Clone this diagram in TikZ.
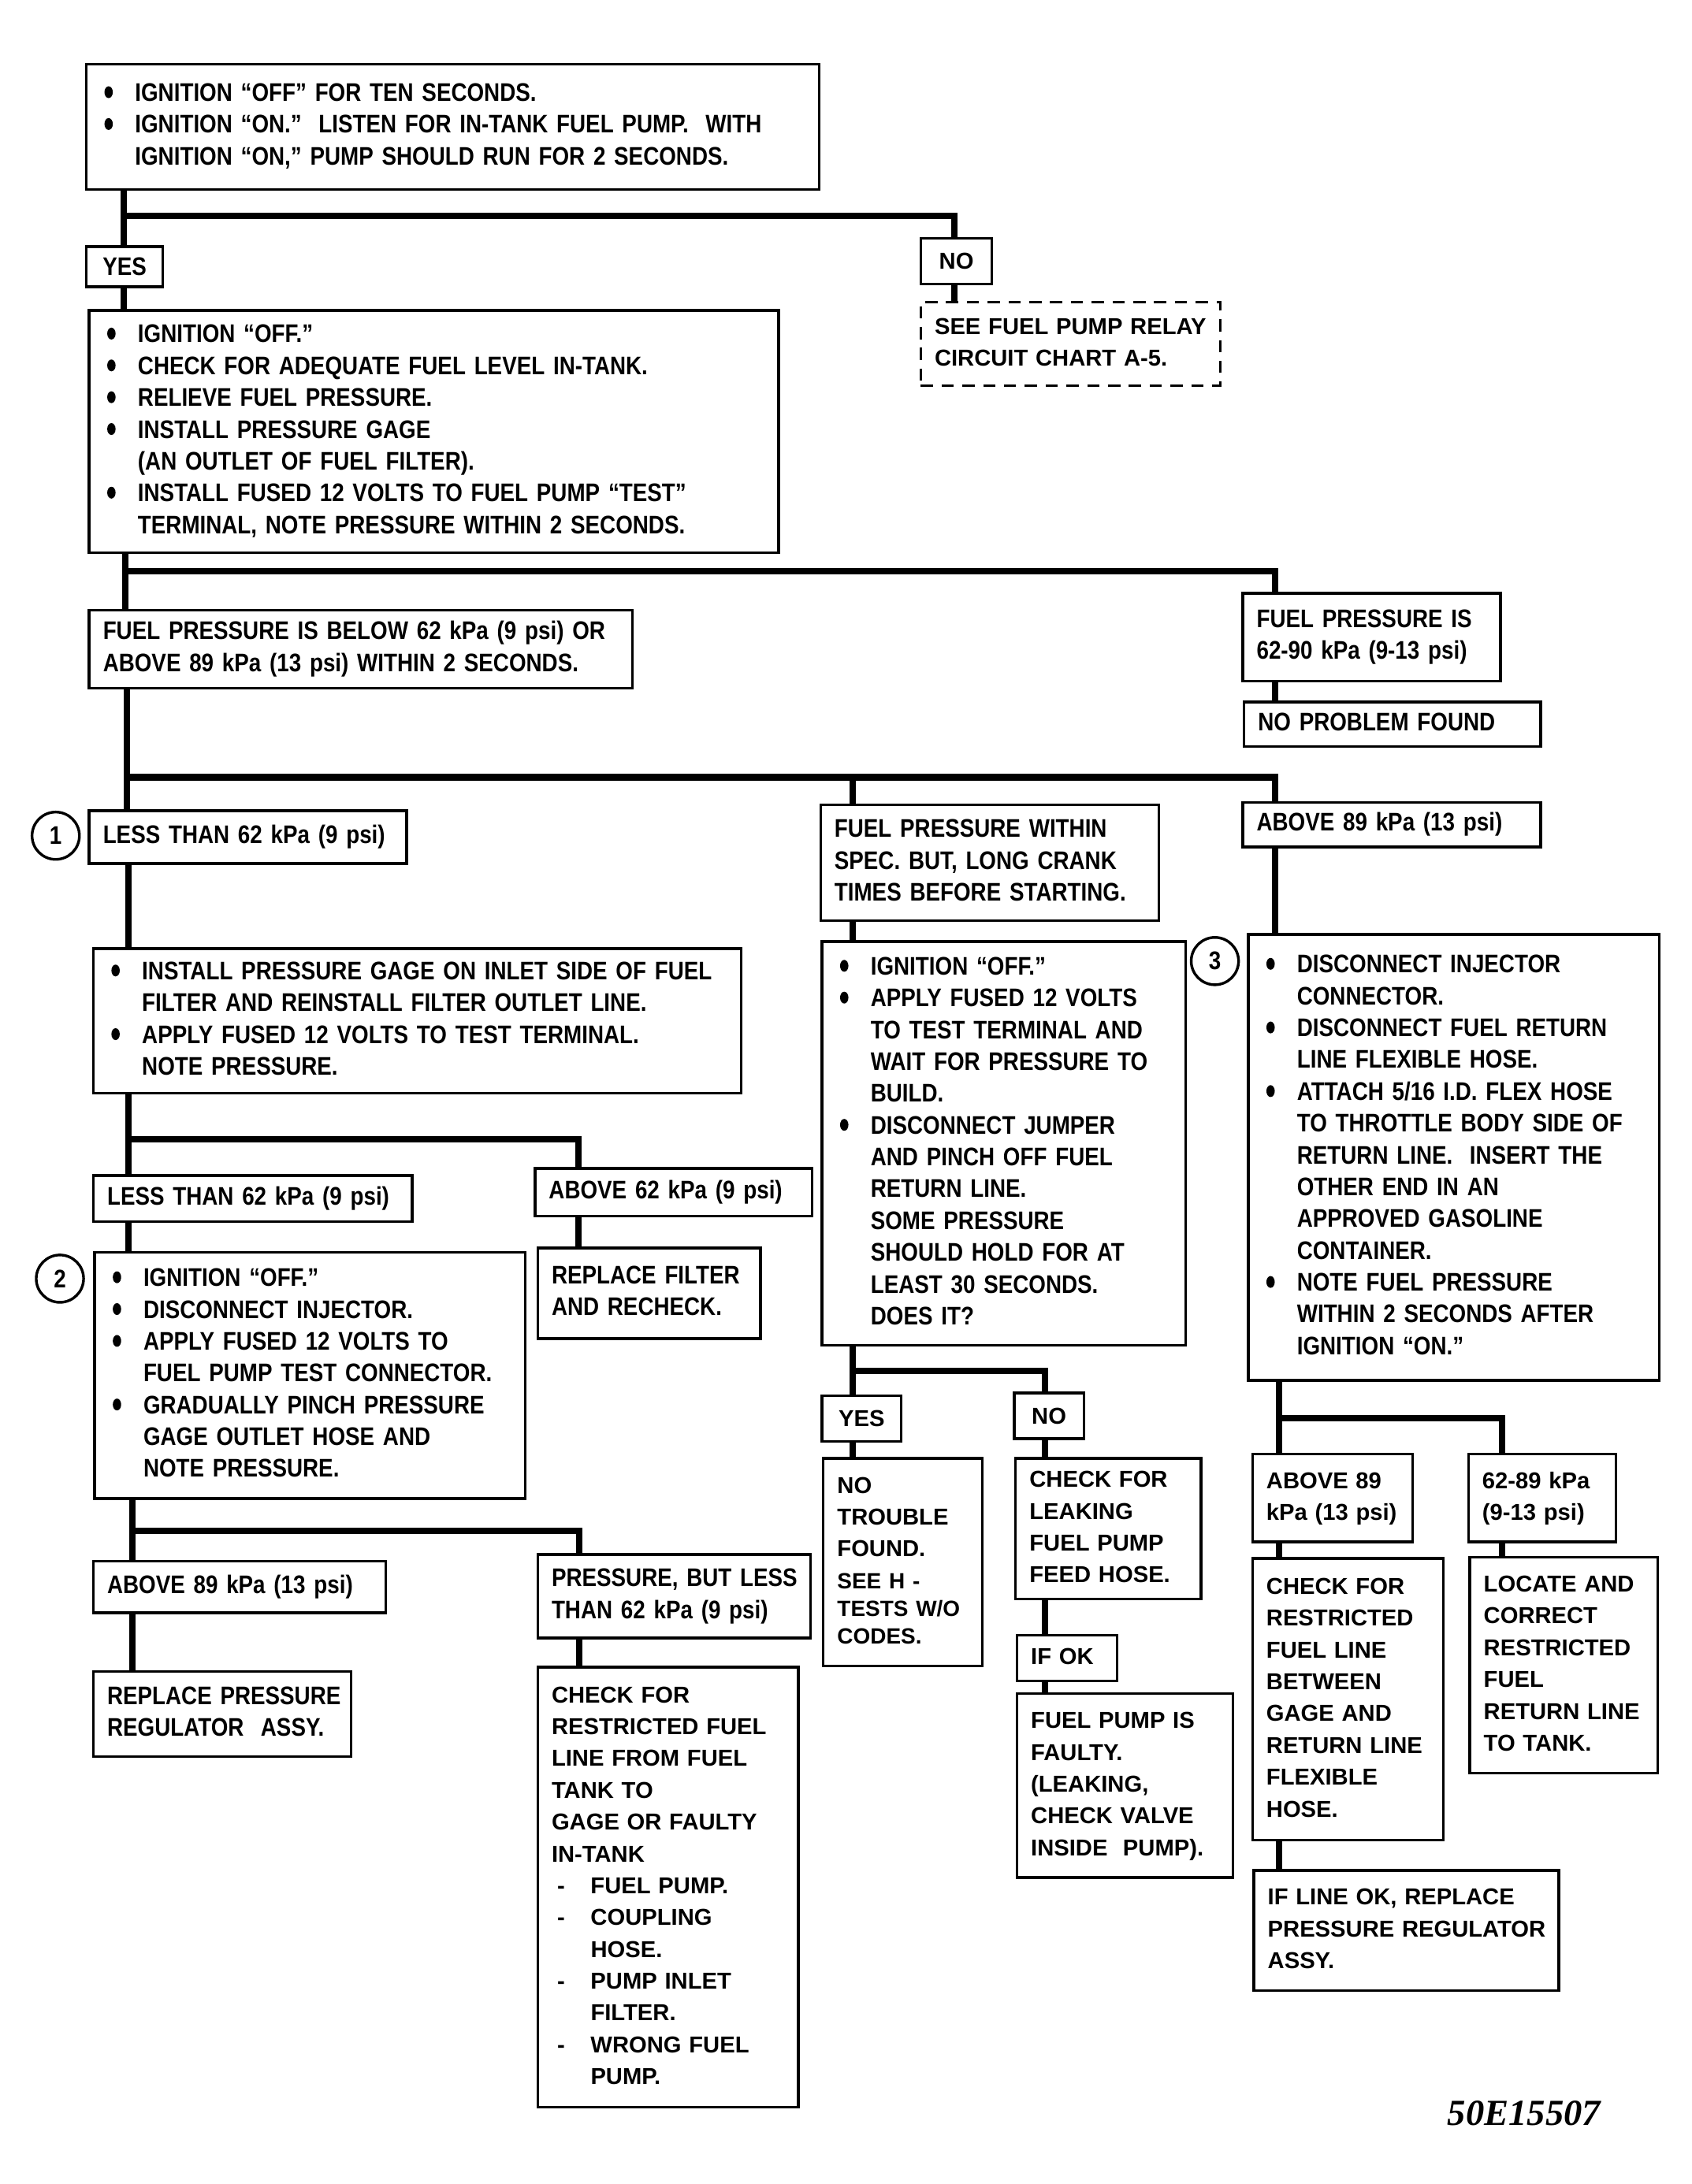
\documentclass[tikz,border=0pt]{standalone}
\usepackage{fontspec}
\newfontfamily\condfont[FakeStretch=0.86]{Liberation Sans}
\newfontfamily\widefont{Liberation Sans}
\newfontfamily\codefont{Liberation Serif}
\usepackage{tikz}

\newcommand\bul{\makebox[0.5cm][l]{\hspace{0.06cm}\tikz[baseline=0pt]\fill (0.06cm,0.13cm) ellipse (0.06cm and 0.085cm);}}
\newcommand\bindent{\hspace*{0.5cm}}
\newcommand\dsh{\makebox[0.56cm][l]{\hspace{0.08cm}-}}
\newcommand\dindent{\hspace*{0.56cm}}
\newcommand\rows[1]{\begin{tabular}{@{}l@{}}#1\end{tabular}}
\newcommand\plainsz{\fontsize{9}{11}\selectfont}

\begin{document}
\begin{tikzpicture}[x=0.02cm, y=-0.02cm,
  box/.style={draw, line width=1.1pt, anchor=north west, align=left, inner xsep=0.2cm, inner ysep=0pt,
    font=\condfont\bfseries\fontsize{10.4}{13}\selectfont},
  widebox/.style={box, font=\widefont\bfseries\fontsize{9.4}{13}\selectfont},
  tag/.style={draw, line width=1.1pt, anchor=north west, inner sep=0pt,
    font=\widefont\bfseries\fontsize{9.4}{13}\selectfont},
  num/.style={circle, draw, line width=1.1pt, minimum size=0.68cm, inner sep=0pt,
    font=\condfont\bfseries\fontsize{10.4}{12}\selectfont},
  conn/.style={line width=2.6pt, line join=miter}]
\fill[white] (0,0) rectangle (1214,1568);
\useasboundingbox (0,0) rectangle (1214,1568);

% --- first check: pump runs ---
\node[box, text width=10.12cm, minimum height=1.8cm] (start) at (61,45) {\rows{%
  \bul IGNITION “OFF” FOR TEN SECONDS.\\
  \bul IGNITION “ON.”\ \ LISTEN FOR IN-TANK FUEL PUMP.\ \ WITH\\
  \bindent IGNITION “ON,” PUMP SHOULD RUN FOR 2 SECONDS.}};
\node[tag, font=\condfont\bfseries\fontsize{10.4}{13}\selectfont, minimum width=1.1cm, minimum height=0.58cm] (yes) at (61,176) {YES};
\node[tag, minimum width=1.02cm, minimum height=0.66cm] (no) at (660,170) {NO};
\node[widebox, line width=1pt, dash pattern=on 5pt off 3.5pt, text width=3.9cm, minimum height=1.2cm] (relay) at (660,216) {\rows{%
  SEE FUEL PUMP RELAY\\ CIRCUIT CHART A-5.}};
\node[box, text width=9.5cm, minimum height=3.48cm] (check) at (63,222) {\rows{%
  \bul IGNITION “OFF.”\\
  \bul CHECK FOR ADEQUATE FUEL LEVEL IN-TANK.\\
  \bul RELIEVE FUEL PRESSURE.\\
  \bul INSTALL PRESSURE GAGE\\
  \bindent (AN OUTLET OF FUEL FILTER).\\
  \bul INSTALL FUSED 12 VOLTS TO FUEL PUMP “TEST”\\
  \bindent TERMINAL, NOTE PRESSURE WITHIN 2 SECONDS.}};

% --- pressure reading ---
\node[box, text width=7.4cm, minimum height=1.12cm] (below) at (63,437) {\rows{%
  FUEL PRESSURE IS BELOW 62 kPa (9 psi) OR\\ ABOVE 89 kPa (13 psi) WITHIN 2 SECONDS.}};
\node[box, text width=3.3cm, minimum height=1.26cm] (normal) at (891,425) {\rows{%
  FUEL PRESSURE IS\\ 62-90 kPa (9-13 psi)}};
\node[box, text width=3.86cm, minimum height=0.64cm] (nofault) at (892,503) {\rows{NO PROBLEM FOUND}};

% --- three branches ---
\node[num] (n1) at (40,600) {1};
\node[box, text width=4.16cm, minimum height=0.76cm] (less) at (63,581) {\rows{LESS THAN 62 kPa (9 psi)}};
\node[box, text width=4.46cm, minimum height=1.66cm] (within) at (588,577) {\rows{%
  FUEL PRESSURE WITHIN\\ SPEC. BUT, LONG CRANK\\ TIMES BEFORE STARTING.}};
\node[box, text width=3.88cm, minimum height=0.64cm] (above) at (891,575) {\rows{ABOVE 89 kPa (13 psi)}};

% --- left column ---
\node[box, text width=8.9cm, minimum height=2.08cm] (inlet) at (66,680) {\rows{%
  \bul INSTALL PRESSURE GAGE ON INLET SIDE OF FUEL\\
  \bindent FILTER AND REINSTALL FILTER OUTLET LINE.\\
  \bul APPLY FUSED 12 VOLTS TO TEST TERMINAL.\\
  \bindent NOTE PRESSURE.}};
\node[box, text width=4.18cm, minimum height=0.66cm] (less2) at (66,843) {\rows{LESS THAN 62 kPa (9 psi)}};
\node[box, text width=3.58cm, minimum height=0.68cm] (above62) at (383,838) {\rows{ABOVE 62 kPa (9 psi)}};
\node[num] (n2) at (43,918) {2};
\node[box, text width=5.78cm, minimum height=3.54cm] (pinch) at (67,898) {\rows{%
  \bul IGNITION “OFF.”\\
  \bul DISCONNECT INJECTOR.\\
  \bul APPLY FUSED 12 VOLTS TO\\
  \bindent FUEL PUMP TEST CONNECTOR.\\
  \bul GRADUALLY PINCH PRESSURE\\
  \bindent GAGE OUTLET HOSE AND\\
  \bindent NOTE PRESSURE.}};
\node[box, text width=2.8cm, minimum height=1.3cm] (filter) at (385,895) {\rows{%
  REPLACE FILTER\\ AND RECHECK.}};
\node[box, text width=3.8cm, minimum height=0.74cm] (above89) at (66,1120) {\rows{ABOVE 89 kPa (13 psi)}};
\node[box, text width=3.52cm, minimum height=1.2cm] (butless) at (385,1115) {\rows{%
  PRESSURE, BUT LESS\\ THAN 62 kPa (9 psi)}};
\node[box, text width=3.3cm, minimum height=1.22cm] (replreg) at (66,1199) {\rows{%
  REPLACE PRESSURE\\ REGULATOR\ \ ASSY.}};
\node[widebox, text width=3.34cm, minimum height=6.32cm] (restrict) at (385,1196) {\rows{%
  CHECK FOR\\ RESTRICTED FUEL\\ LINE FROM FUEL\\ TANK TO\\ GAGE OR FAULTY\\ IN-TANK\\
  \dsh FUEL PUMP.\\ \dsh COUPLING\\ \dindent HOSE.\\ \dsh PUMP INLET\\ \dindent FILTER.\\
  \dsh WRONG FUEL\\ \dindent PUMP.}};

% --- middle column ---
\node[box, text width=4.82cm, minimum height=5.8cm] (ignoff) at (589,675) {\rows{%
  \bul IGNITION “OFF.”\\
  \bul APPLY FUSED 12 VOLTS\\
  \bindent TO TEST TERMINAL AND\\
  \bindent WAIT FOR PRESSURE TO\\
  \bindent BUILD.\\
  \bul DISCONNECT JUMPER\\
  \bindent AND PINCH OFF FUEL\\
  \bindent RETURN LINE.\\
  \bindent SOME PRESSURE\\
  \bindent SHOULD HOLD FOR AT\\
  \bindent LEAST 30 SECONDS.\\
  \bindent DOES IT?}};
\node[tag, minimum width=1.14cm, minimum height=0.66cm] (yes2) at (589,1001) {YES};
\node[tag, minimum width=1.0cm, minimum height=0.66cm] (no2) at (727,999) {NO};
\node[widebox, text width=1.88cm, minimum height=2.98cm] (notrouble) at (590,1046) {\rows{%
  NO\\ TROUBLE\\ FOUND.\\ \plainsz SEE H -\\[-1.7pt] \plainsz TESTS W/O\\[-1.7pt] \plainsz CODES.}};
\node[widebox, text width=2.26cm, minimum height=2.02cm] (leak) at (728,1046) {\rows{%
  CHECK FOR\\ LEAKING\\ FUEL PUMP\\ FEED HOSE.}};
\node[widebox, text width=1.04cm, minimum height=0.66cm] (ifok) at (729,1173) {\rows{IF OK}};
\node[widebox, text width=2.7cm, minimum height=2.64cm] (faulty) at (729,1215) {\rows{%
  FUEL PUMP IS\\ FAULTY.\\ (LEAKING,\\ CHECK VALVE\\ INSIDE\ \ PUMP).}};

% --- right column ---
\node[num] (n3) at (872,690) {3};
\node[box, text width=5.5cm, minimum height=6.4cm] (disc) at (895,670) {\rows{%
  \bul DISCONNECT INJECTOR\\
  \bindent CONNECTOR.\\
  \bul DISCONNECT FUEL RETURN\\
  \bindent LINE FLEXIBLE HOSE.\\
  \bul ATTACH 5/16 I.D. FLEX HOSE\\
  \bindent TO THROTTLE BODY SIDE OF\\
  \bindent RETURN LINE.\ \ INSERT THE\\
  \bindent OTHER END IN AN\\
  \bindent APPROVED GASOLINE\\
  \bindent CONTAINER.\\
  \bul NOTE FUEL PRESSURE\\
  \bindent WITHIN 2 SECONDS AFTER\\
  \bindent IGNITION “ON.”}};
\node[widebox, text width=1.9cm, minimum height=1.26cm] (above89b) at (898,1043) {\rows{%
  ABOVE 89\\ kPa (13 psi)}};
\node[widebox, text width=1.72cm, minimum height=1.26cm] (range) at (1053,1043) {\rows{%
  62-89 kPa\\ (9-13 psi)}};
\node[widebox, text width=2.34cm, minimum height=4.04cm] (between) at (898,1118) {\rows{%
  CHECK FOR\\ RESTRICTED\\ FUEL LINE\\ BETWEEN\\ GAGE AND\\ RETURN LINE\\ FLEXIBLE\\ HOSE.}};
\node[widebox, text width=2.3cm, minimum height=3.1cm] (locate) at (1054,1117) {\rows{%
  LOCATE AND\\ CORRECT\\ RESTRICTED\\ FUEL\\ RETURN LINE\\ TO TANK.}};
\node[widebox, text width=3.98cm, minimum height=1.72cm] (lineok) at (899,1342) {\rows{%
  IF LINE OK, REPLACE\\ PRESSURE REGULATOR\\ ASSY.}};

\node[font=\codefont\bfseries\itshape\fontsize{15}{15}\selectfont] (code) at (1094,1517) {50E15507};

% --- connectors ---
\coordinate (j1) at (89,155);   \coordinate (k1) at (685,155);
\coordinate (j2) at (90,410);   \coordinate (k2) at (915,410);
\coordinate (j3) at (91,558);   \coordinate (m3) at (612,558);  \coordinate (k3) at (915,558);
\coordinate (j4) at (92,818);   \coordinate (k4) at (415,818);
\coordinate (j5) at (95,1099);  \coordinate (k5) at (416,1099);
\coordinate (j6) at (612,984);  \coordinate (k6) at (750,984);
\coordinate (j7) at (918,1018); \coordinate (k7) at (1078,1018);

\draw[conn] (start.south -| j1) -- (yes.north -| j1);
\draw[conn] (j1) -- (k1) -- (k1 |- no.north);
\draw[conn] (no.south -| k1) -- (relay.north -| k1);
\draw[conn] (yes.south -| j1) -- (check.north -| j1);

\draw[conn] (check.south -| j2) -- (below.north -| j2);
\draw[conn] (j2) -- (k2) -- (k2 |- normal.north);
\draw[conn] (normal.south -| k2) -- (nofault.north -| k2);

\draw[conn] (below.south -| j3) -- (less.north -| j3);
\draw[conn] (j3) -- (k3) -- (k3 |- above.north);
\draw[conn] (m3) -- (m3 |- within.north);

\draw[conn] (less.south -| j4) -- (inlet.north -| j4);
\draw[conn] (inlet.south -| j4) -- (less2.north -| j4);
\draw[conn] (j4) -- (k4) -- (k4 |- above62.north);
\draw[conn] (less2.south -| j4) -- (pinch.north -| j4);
\draw[conn] (above62.south -| k4) -- (filter.north -| k4);

\draw[conn] (pinch.south -| j5) -- (above89.north -| j5);
\draw[conn] (j5) -- (k5) -- (k5 |- butless.north);
\draw[conn] (above89.south -| j5) -- (replreg.north -| j5);
\draw[conn] (butless.south -| k5) -- (restrict.north -| k5);

\draw[conn] (within.south -| m3) -- (ignoff.north -| m3);
\draw[conn] (ignoff.south -| j6) -- (yes2.north -| j6);
\draw[conn] (j6) -- (k6) -- (k6 |- no2.north);
\draw[conn] (yes2.south -| j6) -- (notrouble.north -| j6);
\draw[conn] (no2.south -| k6) -- (leak.north -| k6);
\draw[conn] (leak.south -| k6) -- (ifok.north -| k6);
\draw[conn] (ifok.south -| k6) -- (faulty.north -| k6);

\draw[conn] (above.south -| k3) -- (disc.north -| k3);
\draw[conn] (disc.south -| j7) -- (above89b.north -| j7);
\draw[conn] (j7) -- (k7) -- (k7 |- range.north);
\draw[conn] (above89b.south -| j7) -- (between.north -| j7);
\draw[conn] (range.south -| k7) -- (locate.north -| k7);
\draw[conn] (between.south -| j7) -- (lineok.north -| j7);
\end{tikzpicture}
\end{document}
